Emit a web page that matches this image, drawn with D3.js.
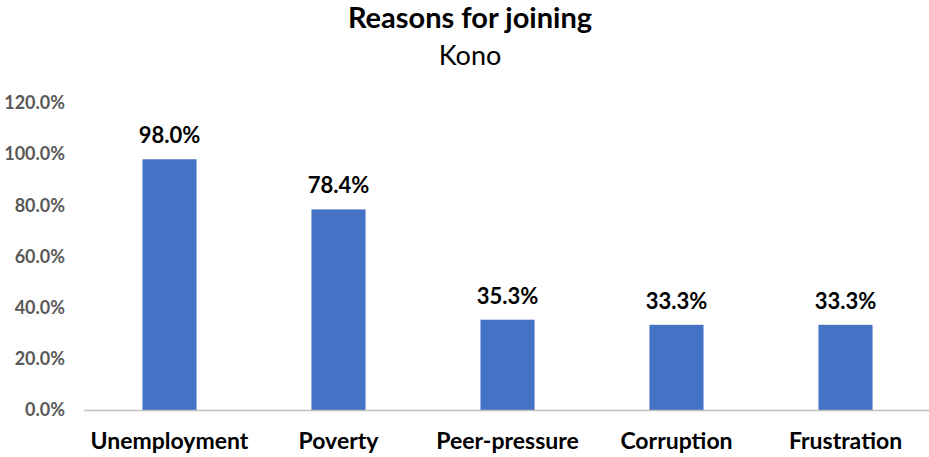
<!DOCTYPE html>
<html>
<head>
<meta charset="utf-8">
<script src="https://cdn.jsdelivr.net/npm/d3@7"></script>
<style>
  body { margin: 0; background: #fff; }
  svg { display: block; font-family: Lato, "Open Sans", sans-serif; }
</style>
</head>
<body>
<svg id="chart" width="929" height="457"></svg>
<script>
const categories = ["Unemployment", "Poverty", "Peer-pressure", "Corruption", "Frustration"];
const values = [98.0, 78.4, 35.3, 33.3, 33.3];
const yTicks = [0, 20, 40, 60, 80, 100, 120];

const svg = d3.select("#chart");
const margin = { left: 85, right: 0, top: 103, bottom: 47 };
const W = 929, H = 457;

const x = d3.scaleBand()
  .domain(categories)
  .range([margin.left, margin.left + 169 * 5])
  .paddingInner(0.68)
  .paddingOuter(0.34);

const y = d3.scaleLinear()
  .domain([0, 120])
  .range([H - margin.bottom, margin.top]);

// Title and subtitle
svg.append("text")
  .attr("x", 470).attr("y", 28)
  .attr("text-anchor", "middle")
  .attr("font-size", 29).attr("font-weight", "bold").attr("fill", "#000")
  .text("Reasons for joining");
svg.append("text")
  .attr("x", 470).attr("y", 65)
  .attr("text-anchor", "middle")
  .attr("font-size", 27).attr("fill", "#000")
  .text("Kono");

// Y axis (labels only)
const yAxis = d3.axisLeft(y)
  .tickValues(yTicks)
  .tickSize(0)
  .tickPadding(0)
  .tickFormat(d => d.toFixed(1) + "%");
const gy = svg.append("g")
  .attr("transform", `translate(${margin.left - 20},0)`)
  .call(yAxis);
gy.select(".domain").remove();
gy.selectAll("text")
  .attr("font-family", "Lato, 'Open Sans', sans-serif")
  .attr("font-size", 18).attr("font-weight", "bold").attr("fill", "#595959");

// Bars
svg.append("g").selectAll("rect")
  .data(values)
  .join("rect")
  .attr("x", (d, i) => x(categories[i]))
  .attr("width", x.bandwidth())
  .attr("y", d => y(d))
  .attr("height", d => y(0) - y(d))
  .attr("fill", "#4472C4");

// Value labels
svg.append("g").selectAll("text")
  .data(values)
  .join("text")
  .attr("x", (d, i) => x(categories[i]) + x.bandwidth() / 2)
  .attr("y", d => y(d) - 16)
  .attr("text-anchor", "middle")
  .attr("font-size", 22).attr("font-weight", "bold").attr("fill", "#000")
  .text(d => d.toFixed(1) + "%");

// X axis
const xAxis = d3.axisBottom(x).tickSize(0).tickPadding(0);
const gx = svg.append("g")
  .attr("transform", `translate(0,${y(0)})`)
  .call(xAxis);
gx.select(".domain")
  .attr("stroke", "#BFBFBF").attr("stroke-width", 1.5)
  .attr("d", `M${margin.left - 1},0.5H${W}`);
gx.selectAll("text")
  .attr("font-family", "Lato, 'Open Sans', sans-serif")
  .attr("font-size", 23).attr("font-weight", "bold").attr("fill", "#000")
  .attr("y", 39).attr("dy", null);
</script>
</body>
</html>
